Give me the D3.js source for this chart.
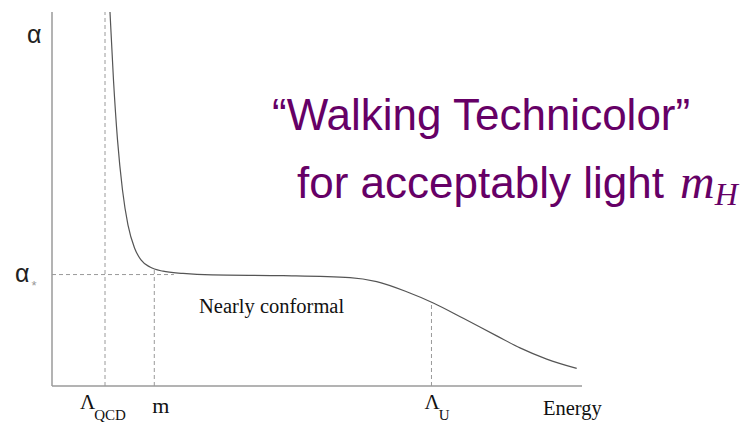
<!DOCTYPE html>
<html>
<head>
<meta charset="utf-8">
<script src="https://cdn.jsdelivr.net/npm/d3@7"></script>
<style>
  body { margin: 0; background: #fff; }
  svg { display: block; }
</style>
</head>
<body>
<div id="chart"></div>
<script>
// running coupling alpha vs energy
const energy = [1.094, 1.16, 1.236, 1.33, 1.434, 1.557, 1.679, 1.849, 2.094, 2.472, 3.019,
                4.364, 5.623, 6.126, 6.692, 7.194, 7.76, 8.391, 8.83, 9.334, 9.9];
const alpha  = [1.0, 0.818, 0.658, 0.524, 0.43, 0.369, 0.337, 0.318, 0.307, 0.301, 0.297,
                0.295, 0.29, 0.279, 0.252, 0.222, 0.181, 0.134, 0.102, 0.072, 0.047];

// scale markers on the energy axis
const markNames = ["QCD", "m", "U"];
const markEnergy = [1.0, 1.93, 7.16];
const markTop = [1.0, 0.31, 0.222];

const alphaStar = 0.298;
const alphaStarEnd = 2.3;

const width = 753, height = 422,
  margin = { top: 12, right: 171, bottom: 36, left: 52 };

const xScale = d3.scaleLinear()
  .domain([0, 10])
  .range([margin.left, width - margin.right]);
const yScale = d3.scaleLinear()
  .domain([0, 1])
  .range([height - margin.bottom, margin.top]);

const svg = d3.select("#chart")
  .append("svg")
  .attr("width", width)
  .attr("height", height);

const gray = "#9a9a9a";

// axes (plain lines, no ticks)
svg.append("line")
  .attr("x1", xScale(0)).attr("x2", xScale(0))
  .attr("y1", yScale(0)).attr("y2", yScale(1))
  .attr("stroke", gray).attr("stroke-width", 1.5);
svg.append("line")
  .attr("x1", xScale(0)).attr("x2", xScale(10))
  .attr("y1", yScale(0)).attr("y2", yScale(0))
  .attr("stroke", gray).attr("stroke-width", 1.5);

// dashed guides
svg.selectAll(".vguide").data(markEnergy).enter()
  .append("line")
  .attr("class", "vguide")
  .attr("x1", d => xScale(d)).attr("x2", d => xScale(d))
  .attr("y1", yScale(0)).attr("y2", (d, i) => yScale(markTop[i]))
  .attr("stroke", gray).attr("stroke-width", 1)
  .attr("stroke-dasharray", "4,3");

svg.append("line")
  .attr("x1", xScale(0)).attr("x2", xScale(alphaStarEnd))
  .attr("y1", yScale(alphaStar)).attr("y2", yScale(alphaStar))
  .attr("stroke", gray).attr("stroke-width", 1)
  .attr("stroke-dasharray", "4,3");

// the curve
const line = d3.line()
  .x((d, i) => xScale(energy[i]))
  .y(d => yScale(d))
  .curve(d3.curveMonotoneX);

svg.append("path")
  .attr("d", line(alpha))
  .attr("fill", "none")
  .attr("stroke", "#555")
  .attr("stroke-width", 1.2);

// axis labels
const serif = "'Liberation Serif', 'Times New Roman', serif";
const sans = "'Liberation Sans', Arial, sans-serif";

svg.append("text")
  .attr("x", 27).attr("y", 43)
  .attr("font-family", sans)
  .attr("font-size", "25px")
  .attr("fill", "#222")
  .text("α");

const aStar = svg.append("text")
  .attr("x", 15).attr("y", yScale(alphaStar) + 7)
  .attr("font-family", sans)
  .attr("font-size", "25px")
  .attr("fill", "#222");
aStar.append("tspan").text("α");
aStar.append("tspan")
  .attr("dx", 2).attr("dy", 8)
  .attr("font-size", "13px")
  .attr("fill", "#999")
  .text("*");

// energy marks
markNames.forEach((name, i) => {
  const x = xScale(markEnergy[i]);
  if (name === "m") {
    svg.append("text")
      .attr("x", x - 2).attr("y", 413)
      .attr("font-family", serif)
      .attr("font-size", "22px")
      .attr("fill", "#111")
      .text("m");
  } else {
    const t = svg.append("text")
      .attr("x", name === "U" ? x - 7 : x - 25).attr("y", 409)
      .attr("font-family", serif)
      .attr("font-size", "21px")
      .attr("fill", "#111");
    t.append("tspan").text("Λ");
    t.append("tspan")
      .attr("dx", -1).attr("dy", 11)
      .attr("font-size", "15px")
      .text(name);
  }
});

svg.append("text")
  .attr("x", 543).attr("y", 415)
  .attr("font-family", serif)
  .attr("font-size", "20.5px")
  .attr("fill", "#111")
  .text("Energy");

svg.append("text")
  .attr("x", 199).attr("y", 313)
  .attr("font-family", serif)
  .attr("font-size", "20.5px")
  .attr("fill", "#111")
  .text("Nearly conformal");

// title
const purple = "#660066";
svg.append("text")
  .attr("x", 272).attr("y", 130)
  .attr("font-family", sans)
  .attr("font-size", "44px")
  .attr("fill", purple)
  .text("\u201CWalking Technicolor\u201D");

const t2 = svg.append("text")
  .attr("x", 297).attr("y", 198)
  .attr("font-family", sans)
  .attr("font-size", "44px")
  .attr("fill", purple);
t2.append("tspan").text("for acceptably light ");
t2.append("tspan")
  .attr("dx", 4)
  .attr("font-family", serif)
  .attr("font-style", "italic")
  .attr("font-size", "48px")
  .text("m");
t2.append("tspan")
  .attr("dy", 7)
  .attr("font-family", serif)
  .attr("font-style", "italic")
  .attr("font-size", "32px")
  .text("H");
</script>
</body>
</html>
